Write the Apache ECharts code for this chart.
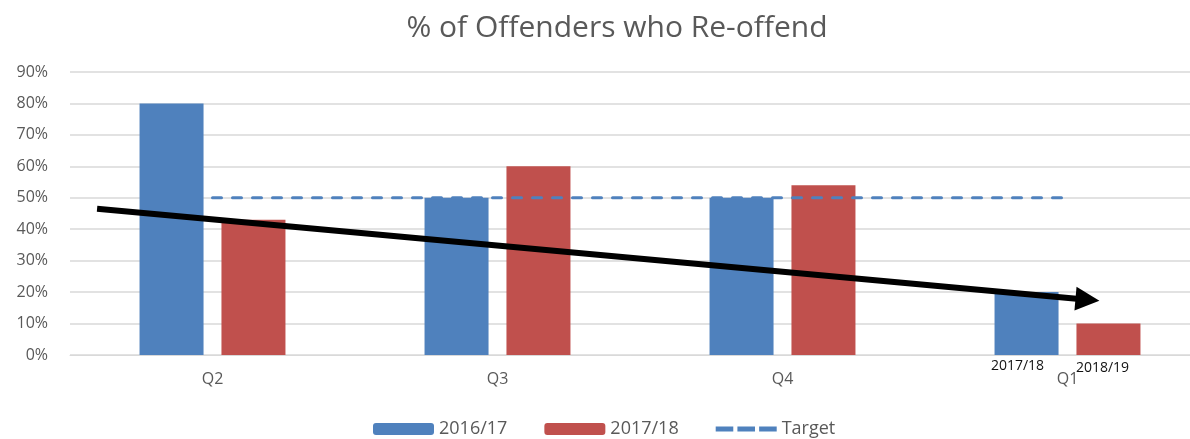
<!DOCTYPE html>
<html>
<head>
<meta charset="utf-8">
<script src="https://cdn.jsdelivr.net/npm/echarts@6/dist/echarts.min.js"></script>
<style>
  html, body { margin: 0; padding: 0; background: #fff; }
  #chart { width: 1190px; height: 439px; }
</style>
</head>
<body>
<div id="chart"></div>
<script>
const quarters = ['Q2', 'Q3', 'Q4', 'Q1']
const year1617 = [80, 50, 50, 20]
const year1718 = [43, 60, 54, 10]
const target = [50, 50, 50, 50]
// trend arrow drawn over the bars: [category position, percent]
const trendArrow = [[-0.405, 46.5], [3.07, 17.6]]
const q1Tags = ['2017/18', '2018/19']

const font = 'Open Sans'
const grey = '#595959'
// three short dashes, used as the legend icon of the target line
const dashIcon = 'path://M0,0h17v5h-17z M21,0h17v5h-17z M42,0h17v5h-17z'

const chart = echarts.init(document.getElementById('chart'))

chart.setOption({
  animation: false,
  title: {
    text: '% of Offenders who Re-offend',
    left: 612,
    top: 8,
    textAlign: 'center',
    textStyle: { fontFamily: font, fontSize: 30, fontWeight: 'normal', color: grey }
  },
  legend: {
    left: 368,
    top: 415,
    itemWidth: 61,
    itemHeight: 12,
    itemGap: 37,
    textStyle: { fontFamily: font, fontSize: 18, color: grey },
    data: ['2016/17', '2017/18', { name: 'Target', icon: dashIcon }]
  },
  grid: { left: 70, top: 72, width: 1140, height: 283, outerBoundsMode: 'none' },
  xAxis: [{
    type: 'category',
    data: quarters,
    axisLine: { show: true, lineStyle: { color: '#D9D9D9' } },
    axisTick: { show: false },
    axisLabel: { margin: 16, fontFamily: font, fontSize: 16, color: grey }
  }, {
    type: 'value',
    min: -0.5,
    max: 3.5,
    show: false
  }],
  yAxis: {
    type: 'value',
    min: 0,
    max: 90,
    interval: 10,
    axisLine: { show: false },
    axisTick: { show: false },
    splitLine: { lineStyle: { color: '#D9D9D9', width: 1.5 } },
    axisLabel: { margin: 22, fontFamily: font, fontSize: 16, color: grey, formatter: '{value}%' }
  },
  series: [
    {
      name: '2016/17',
      type: 'bar',
      barWidth: 64,
      barGap: '28%',
      itemStyle: { color: '#4F81BD' },
      data: year1617.map((v, i) => i === 3 ? {
        value: v,
        label: { show: true, position: 'insideBottom', offset: [-9, 23], formatter: q1Tags[0], fontFamily: font, fontSize: 14, color: '#111' }
      } : v)
    },
    {
      name: '2017/18',
      type: 'bar',
      barWidth: 64,
      itemStyle: { color: '#C0504D' },
      data: year1718.map((v, i) => i === 3 ? {
        value: v,
        label: { show: true, position: 'insideBottom', offset: [-6, 25], formatter: q1Tags[1], fontFamily: font, fontSize: 14, color: '#111' }
      } : v)
    },
    {
      name: 'Target',
      type: 'line',
      symbol: 'none',
      itemStyle: { color: '#4F81BD' },
      lineStyle: { color: '#4F81BD', width: 3, type: [9, 11], cap: 'round' },
      data: target
    },
    {
      name: 'trend',
      type: 'line',
      xAxisIndex: 1,
      silent: true,
      z: 10,
      lineStyle: { color: '#000', width: 6 },
      itemStyle: { color: '#000' },
      data: trendArrow.map((p, i) => i === 0
        ? { value: p, symbol: 'none' }
        : { value: p, symbol: 'triangle', symbolSize: [24, 24], symbolRotate: -95 })
    }
  ]
})
</script>
</body>
</html>
